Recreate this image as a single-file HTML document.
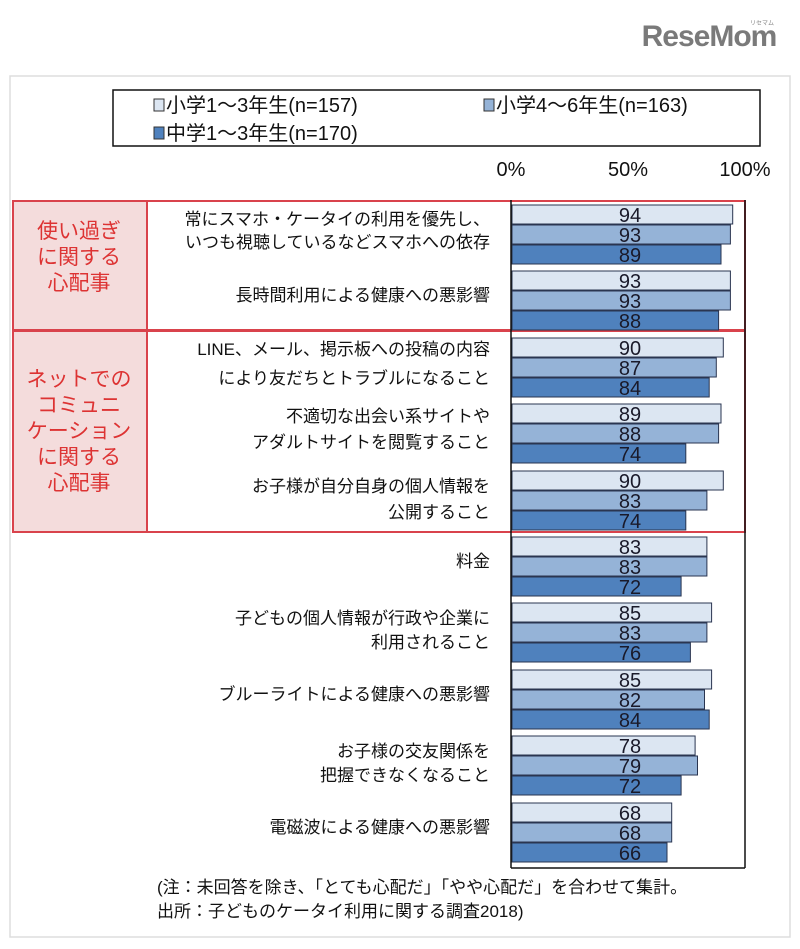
<!DOCTYPE html>
<html><head><meta charset="utf-8"><style>
body{margin:0;background:#fff;}
svg text{font-family:"Liberation Sans","Noto Sans CJK JP",sans-serif;}
.a{fill:#dce6f2;stroke:#2a3550;stroke-width:1}
.b{fill:#95b3d7;stroke:#2a3550;stroke-width:1}
.c{fill:#4f81bd;stroke:#2a3550;stroke-width:1}
.v text{font-size:20px;fill:#1a1a2a;text-anchor:middle}
</style></head><body>
<svg width="800" height="944" xmlns="http://www.w3.org/2000/svg">
<rect x="0" y="0" width="800" height="944" fill="#fff"/>
<text x="709" y="46" font-size="30" font-weight="bold" fill="#7a7a7a" text-anchor="middle" letter-spacing="-1">ReseMom</text>
<text x="762" y="25" font-size="6" fill="#888" text-anchor="middle">リセマム</text>
<rect x="10" y="76" width="780" height="861" fill="none" stroke="#ddd" stroke-width="1.5"/>
<rect x="113" y="90" width="647" height="56" fill="#fff" stroke="#111" stroke-width="1.5"/>
<rect x="154" y="99" width="10" height="12" fill="#dce6f2" stroke="#333"/>
<text x="166" y="112" font-size="20" fill="#111">小学1～3年生(n=157)</text>
<rect x="484" y="99" width="10" height="12" fill="#95b3d7" stroke="#333"/>
<text x="496" y="112" font-size="20" fill="#111">小学4～6年生(n=163)</text>
<rect x="154" y="127" width="10" height="12" fill="#4f81bd" stroke="#333"/>
<text x="166" y="140" font-size="20" fill="#111">中学1～3年生(n=170)</text>
<text x="511" y="176" font-size="20" fill="#111" text-anchor="middle">0%</text>
<text x="628" y="176" font-size="20" fill="#111" text-anchor="middle">50%</text>
<text x="745" y="176" font-size="20" fill="#111" text-anchor="middle">100%</text>
<rect x="13" y="201" width="134" height="129" fill="#f4dcdc"/>
<rect x="13" y="331" width="134" height="201" fill="#f4dcdc"/>
<g fill="none" stroke="#d9434c" stroke-width="2">
<rect x="13" y="201" width="732" height="129"/>
<rect x="13" y="331" width="732" height="201"/>
<line x1="147" y1="201" x2="147" y2="532"/>
</g>
<g font-size="21" fill="#d33" text-anchor="middle">
<text x="79" y="238">使い過ぎ</text><text x="79" y="264">に関する</text><text x="79" y="290">心配事</text>
<text x="79" y="386">ネットでの</text><text x="79" y="412">コミュニ</text><text x="79" y="438">ケーション</text><text x="79" y="464">に関する</text><text x="79" y="490">心配事</text>
</g>
<g>
<rect class="a" x="512" y="205" width="220.7" height="19"/><rect class="b" x="512" y="225" width="218.4" height="19"/><rect class="c" x="512" y="245" width="209" height="19"/>
<rect class="a" x="512" y="271" width="218.4" height="19"/><rect class="b" x="512" y="291" width="218.4" height="19"/><rect class="c" x="512" y="311" width="206.6" height="19"/>
<rect class="a" x="512" y="338" width="211.3" height="19"/><rect class="b" x="512" y="358" width="204.3" height="19"/><rect class="c" x="512" y="378" width="197.2" height="19"/>
<rect class="a" x="512" y="404" width="209" height="19"/><rect class="b" x="512" y="424" width="206.6" height="19"/><rect class="c" x="512" y="444" width="173.8" height="19"/>
<rect class="a" x="512" y="471" width="211.3" height="19"/><rect class="b" x="512" y="491" width="194.9" height="19"/><rect class="c" x="512" y="511" width="173.8" height="19"/>
<rect class="a" x="512" y="537" width="194.9" height="19"/><rect class="b" x="512" y="557" width="194.9" height="19"/><rect class="c" x="512" y="577" width="169.1" height="19"/>
<rect class="a" x="512" y="603" width="199.6" height="19"/><rect class="b" x="512" y="623" width="194.9" height="19"/><rect class="c" x="512" y="643" width="178.4" height="19"/>
<rect class="a" x="512" y="670" width="199.6" height="19"/><rect class="b" x="512" y="690" width="192.5" height="19"/><rect class="c" x="512" y="710" width="197.2" height="19"/>
<rect class="a" x="512" y="736" width="183.1" height="19"/><rect class="b" x="512" y="756" width="185.5" height="19"/><rect class="c" x="512" y="776" width="169.1" height="19"/>
<rect class="a" x="512" y="803" width="159.7" height="19"/><rect class="b" x="512" y="823" width="159.7" height="19"/><rect class="c" x="512" y="843" width="155" height="19"/>
</g>
<g class="v">
<text x="630" y="222">94</text><text x="630" y="242">93</text><text x="630" y="262">89</text>
<text x="630" y="288">93</text><text x="630" y="308">93</text><text x="630" y="328">88</text>
<text x="630" y="355">90</text><text x="630" y="375">87</text><text x="630" y="395">84</text>
<text x="630" y="421">89</text><text x="630" y="441">88</text><text x="630" y="461">74</text>
<text x="630" y="488">90</text><text x="630" y="508">83</text><text x="630" y="528">74</text>
<text x="630" y="554">83</text><text x="630" y="574">83</text><text x="630" y="594">72</text>
<text x="630" y="620">85</text><text x="630" y="640">83</text><text x="630" y="660">76</text>
<text x="630" y="687">85</text><text x="630" y="707">82</text><text x="630" y="727">84</text>
<text x="630" y="753">78</text><text x="630" y="773">79</text><text x="630" y="793">72</text>
<text x="630" y="820">68</text><text x="630" y="840">68</text><text x="630" y="860">66</text>
</g>
<g font-size="17" fill="#111" text-anchor="end">
<text x="490" y="225">常にスマホ・ケータイの利用を優先し、</text>
<text x="490" y="248">いつも視聴しているなどスマホへの依存</text>
<text x="490" y="301">長時間利用による健康への悪影響</text>
<text x="490" y="355">LINE、メール、掲示板への投稿の内容</text>
<text x="490" y="384">により友だちとトラブルになること</text>
<text x="490" y="422">不適切な出会い系サイトや</text>
<text x="490" y="448">アダルトサイトを閲覧すること</text>
<text x="490" y="492">お子様が自分自身の個人情報を</text>
<text x="490" y="518">公開すること</text>
<text x="490" y="567">料金</text>
<text x="490" y="624">子どもの個人情報が行政や企業に</text>
<text x="490" y="648">利用されること</text>
<text x="490" y="700">ブルーライトによる健康への悪影響</text>
<text x="490" y="757">お子様の交友関係を</text>
<text x="490" y="781">把握できなくなること</text>
<text x="490" y="833">電磁波による健康への悪影響</text>
</g>
<line x1="511" y1="200" x2="511" y2="868" stroke="#111" stroke-width="1.5"/>
<line x1="745" y1="200" x2="745" y2="868" stroke="#111" stroke-width="1.5"/>
<line x1="511" y1="868" x2="745" y2="868" stroke="#111" stroke-width="1.5"/>
<text x="157" y="893" font-size="17" fill="#111">(注：未回答を除き、「とても心配だ」「やや心配だ」を合わせて集計。</text>
<text x="157" y="917" font-size="17" fill="#111">出所：子どものケータイ利用に関する調査2018)</text>
</svg>
</body></html>
